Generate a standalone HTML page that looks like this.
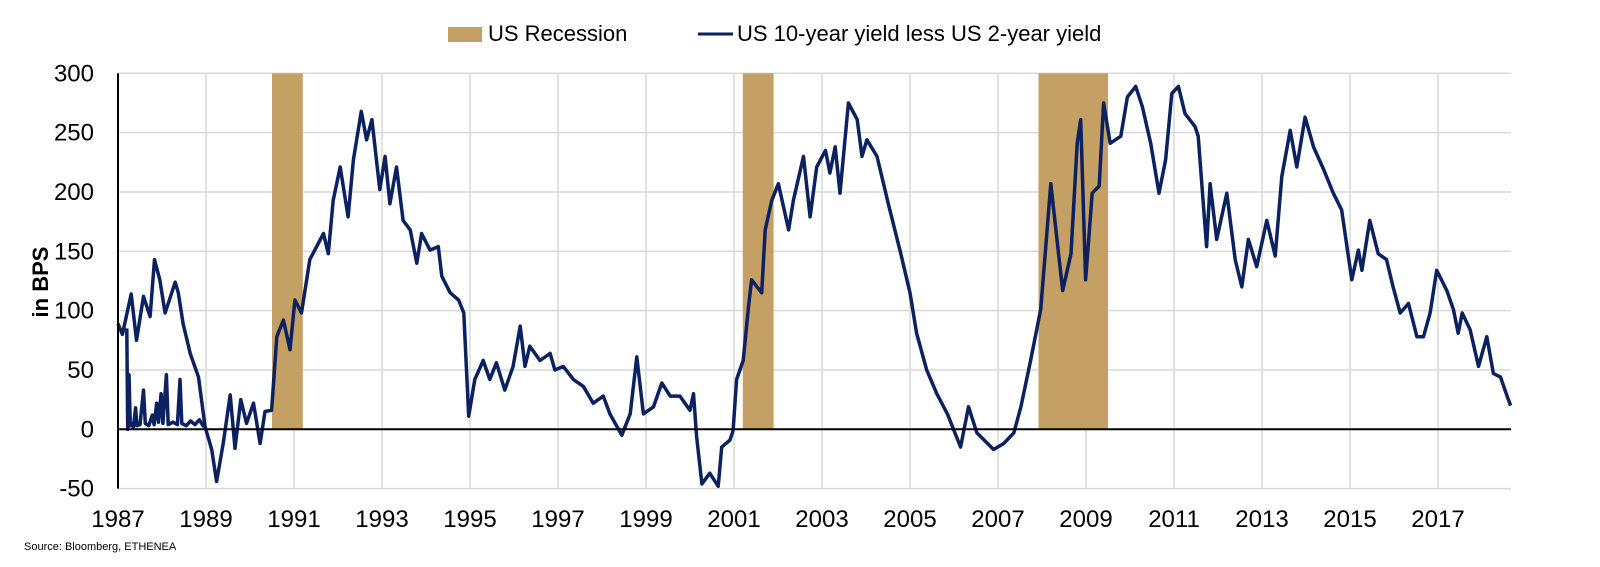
<!DOCTYPE html>
<html><head><meta charset="utf-8"><style>
html,body{margin:0;padding:0;background:#fff;}
svg{display:block;font-family:"Liberation Sans",Arial,sans-serif;}
</style></head><body>
<svg id="chart" width="1600" height="567" viewBox="0 0 1600 567">
  <g id="legend">
    <rect x="448" y="27" width="34" height="15" fill="#c4a064"/>
    <text x="488" y="41" font-size="22" fill="#000">US Recession</text>
    <line x1="698" y1="34" x2="733" y2="34" stroke="#0b2160" stroke-width="3"/>
    <text x="737" y="41" font-size="22" fill="#000">US 10-year yield less US 2-year yield</text>
  </g>
  <g id="grid"></g>
  <g id="rec"></g>
  <g id="series"></g>
  <g id="axes"></g>
  <text transform="translate(48,282) rotate(-90)" text-anchor="middle" font-size="22" font-weight="bold" fill="#000">in BPS</text>
  <text x="24" y="550" font-size="11" fill="#000">Source: Bloomberg, ETHENEA</text>
</svg>
<script>
const yTicks = [300,250,200,150,100,50,0,-50];
const xTickYears = [1987,1989,1991,1993,1995,1997,1999,2001,2003,2005,2007,2009,2011,2013,2015,2017];
const recStarts = [1990.5, 2001.2, 2007.92];
const recEnds = [1991.2, 2001.9, 2009.5];
const years = [1987.0,1987.1,1987.3,1987.42,1987.58,1987.73,1987.83,1987.95,1988.07,1988.3,1988.37,1988.48,1988.64,1988.83,1988.98,1989.13,1989.24,1989.39,1989.55,1989.66,1989.79,1989.92,1990.08,1990.23,1990.34,1990.49,1990.61,1990.76,1990.91,1991.02,1991.17,1991.36,1991.67,1991.78,1991.89,1992.05,1992.23,1992.35,1992.53,1992.65,1992.77,1992.95,1993.07,1993.18,1993.33,1993.48,1993.64,1993.79,1993.9,1994.09,1994.28,1994.36,1994.55,1994.74,1994.86,1994.97,
1995.11,1995.3,1995.45,1995.6,1995.79,1995.98,1996.14,1996.25,1996.36,1996.59,1996.82,1996.93,1997.12,1997.35,1997.58,1997.8,1998.03,1998.18,1998.45,1998.64,1998.79,1998.94,1999.17,1999.36,1999.55,1999.77,2000.0,2000.08,2000.15,2000.27,2000.45,2000.64,2000.72,2000.91,2000.98,2001.06,2001.21,2001.33,2001.4,2001.63,2001.71,2001.86,2002.01,2002.24,2002.35,2002.58,2002.73,2002.88,
2003.08,2003.18,2003.3,2003.41,2003.6,2003.8,2003.91,2004.02,2004.25,2004.52,2004.79,2005.0,2005.15,2005.38,2005.61,2005.85,2006.15,2006.33,2006.52,2006.9,2007.13,2007.36,2007.52,2007.74,2007.97,2008.08,2008.2,2008.39,2008.47,2008.66,2008.8,2008.88,2008.99,2009.14,2009.3,2009.4,2009.55,2009.79,2009.94,2010.13,2010.28,2010.47,2010.66,2010.81,2010.95,
2011.1,2011.25,2011.48,2011.55,2011.67,2011.74,2011.82,2011.97,2012.2,2012.39,2012.54,2012.69,2012.88,2013.11,2013.3,2013.45,2013.64,2013.79,2013.98,2014.17,2014.4,2014.62,2014.81,2015.04,2015.19,2015.27,2015.45,2015.64,2015.83,2015.98,2016.14,2016.33,2016.52,2016.67,2016.82,2016.97,2017.2,2017.35,2017.46,2017.55,2017.73,2017.92,2018.11,2018.26,2018.42,2018.57,2018.65];
const spreadBps = [89,80,114,75,112,95,143,126,98,124,115,89,64,44,2,-17,-44,-12,29,-16,25,5,22,-12,15,16,78,92,67,109,98,143,165,148,193,221,179,227,268,244,261,202,230,190,221,176,168,140,165,151,154,129,115,109,98,11,
42,58,42,56,33,53,87,53,70,58,64,50,53,42,36,22,28,13,-5,13,61,13,19,39,28,28,16,30,-6,-46,-37,-48,-15,-9,-1,42,58,103,126,115,168,193,207,168,193,230,179,221,
235,216,238,199,275,261,230,244,230,188,148,115,81,50,30,13,-15,19,-3,-17,-12,-3,19,58,101,151,207,143,117,148,241,261,126,199,205,275,241,247,280,289,272,241,199,227,283,
289,266,255,247,188,154,207,160,199,143,120,160,137,176,146,213,252,221,263,238,219,199,185,126,151,134,176,148,143,120,98,106,78,78,98,134,117,101,81,98,84,53,78,47,44,28,20];
const glitchYears = [1987.2,1987.22,1987.25,1987.28,1987.3,1987.35,1987.4,1987.43,1987.5,1987.58,1987.62,1987.7,1987.78,1987.82,1987.88,1987.92,1987.98,1988.02,1988.1,1988.14,1988.25,1988.35,1988.41,1988.45,1988.55,1988.65,1988.75,1988.85,1988.95];
const glitchVals = [85,0,46,3,5,2,18,3,4,33,5,3,12,4,22,6,30,5,46,4,6,4,42,5,3,7,4,8,2];

const X0=118, X1=1511, Y300=73.3, Y0=429.3;
const xs = y => X0 + (y-1987)*44;
const ys = v => Y0 - v*(Y0-Y300)/300;
const NS="http://www.w3.org/2000/svg";
function mk(tag, attrs, parent){const e=document.createElementNS(NS,tag);for(const k in attrs)e.setAttribute(k,attrs[k]);parent.appendChild(e);return e;}
const grid=document.getElementById('grid'), rec=document.getElementById('rec'), ser=document.getElementById('series'), axes=document.getElementById('axes');
yTicks.forEach(t=>{
  if(t!==0){const l=mk('line',{x1:X0,x2:X1,y1:ys(t),y2:ys(t),stroke:'#d9d9d9','stroke-width':1.5},grid);
  
  }
  const tx=mk('text',{x:94,y:ys(t)+8,'text-anchor':'end','font-size':24,fill:'#000'},axes);
  tx.textContent=t;
  
  
});
xTickYears.forEach(yr=>{
  if(yr!==1987){const l=mk('line',{x1:xs(yr),x2:xs(yr),y1:Y300,y2:ys(-50),stroke:'#d9d9d9','stroke-width':1.5},grid);
  
  }
  const tx=mk('text',{x:xs(yr),y:527,'text-anchor':'middle','font-size':24,fill:'#000'},axes);
  tx.textContent=yr;
  
  
});
recStarts.forEach((s,i)=>{
  const r=mk('rect',{x:xs(s),y:Y300,width:xs(recEnds[i])-xs(s),height:ys(0)-Y300,fill:'#c4a064'},rec);
  
  
});
let d=years.map((y,i)=>(i?'L':'M')+xs(y).toFixed(1)+' '+ys(spreadBps[i]).toFixed(1)).join(' ');
const p=mk('path',{d:d,fill:'none',stroke:'#0b2160','stroke-width':3.5,'stroke-linejoin':'round'},ser);


let d2=glitchYears.map((y,i)=>(i?'L':'M')+xs(y).toFixed(1)+' '+ys(glitchVals[i]).toFixed(1)).join(' ');
const p2=mk('path',{d:d2,fill:'none',stroke:'#0b2160','stroke-width':3.5,'stroke-linejoin':'round'},ser);


const za=mk('line',{x1:X0,x2:X1,y1:ys(0),y2:ys(0),stroke:'#000','stroke-width':2},axes);


const ya=mk('line',{x1:X0,x2:X0,y1:Y300,y2:ys(-50),stroke:'#000','stroke-width':2},axes);


</script>
</body></html>
